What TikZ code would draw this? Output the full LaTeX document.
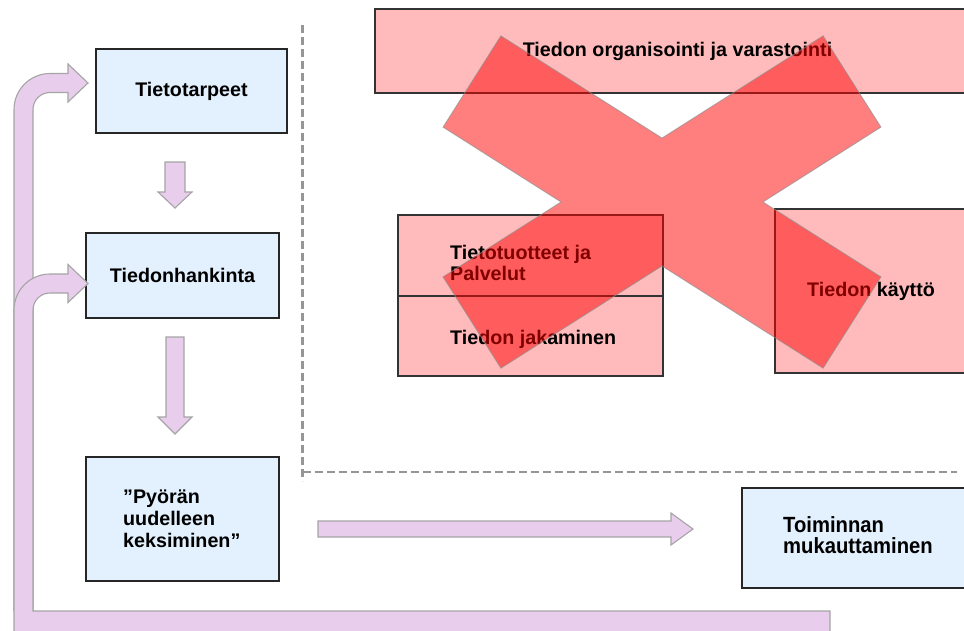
\documentclass[tikz,border=0pt]{standalone}
\usepackage{fontspec}
\setmainfont{Liberation Sans}
\newfontfamily\narrowsans{Liberation Sans}[FakeStretch=0.92]
\definecolor{boxblue}{RGB}{227,240,253}
\definecolor{boxpink}{RGB}{255,187,187}
\definecolor{arrowfill}{RGB}{233,205,236}
\definecolor{arrowline}{RGB}{165,165,165}
\definecolor{dashgrey}{RGB}{150,150,150}
\definecolor{crossred}{RGB}{255,0,0}
\begin{document}
\begin{tikzpicture}[x=1pt,y=-1pt,
  bluebox/.style={draw=black!85, fill=boxblue, line width=1.3pt, inner sep=0pt,
    font=\bfseries\fontsize{19.7}{21}\selectfont},
  pinkbox/.style={draw=black!80, fill=boxpink, line width=1.2pt, inner sep=0pt,
    font=\bfseries\fontsize{19.7}{21}\selectfont},
  lbl/.style={anchor=base west, inner sep=0pt, font=\bfseries\fontsize{19.7}{21}\selectfont},
  narrowlbl/.style={anchor=base west, inner sep=0pt, font=\narrowsans\bfseries\fontsize{22}{23}\selectfont},
  blockarrow/.style={fill=arrowfill, draw=arrowline, line width=1.1pt, line join=miter},
  boundary/.style={draw=dashgrey, line width=2.8pt, dash pattern=on 8pt off 4pt},
  cross/.style={fill=crossred, fill opacity=0.5, draw=black!45, draw opacity=0.6, line width=1pt}]
\useasboundingbox (0,0) rectangle (964,630);
\clip (0,0) rectangle (964,630);

% dashed boundary of the information-management area
\draw[boundary] (302.7,25) -- (302.7,481);
\draw[boundary] (302.7,472) -- (957,472);

% process boxes
\node[bluebox, minimum width=191, minimum height=84] (tarpeet) at (191.5,91) {Tietotarpeet};
\node[bluebox, minimum width=193, minimum height=85] (hankinta) at (182.5,275.5) {Tiedonhankinta};
\node[bluebox, minimum width=193, minimum height=124] (pyora) at (182.5,519) {};
\node[bluebox, minimum width=238, minimum height=100] (toiminta) at (861,538) {};

% feedback arrow along the bottom, up the left side into Tietotarpeet
\filldraw[blockarrow] (830,650) -- (830,611) -- (33,611) -- (33,109.5)
  .. controls (33,100.1) and (40.6,92.5) .. (50,92.5) -- (68,92.5) -- (68,102)
  -- (88,83) -- (68,64) -- (68,73.5) -- (50,73.5)
  .. controls (30.1,73.5) and (14,89.6) .. (14,109.5) -- (14,650) -- cycle;

% second branch into Tiedonhankinta
\fill[arrowfill] (14,611) -- (14,310) .. controls (14,290.1) and (30.1,274) .. (50,274)
  -- (68,274) -- (68,264.5) -- (88,283.5) -- (68,302.5) -- (68,293) -- (50,293)
  .. controls (40.6,293) and (33,300.6) .. (33,310) -- (33,611) -- cycle;
\draw[draw=arrowline, line width=1.1pt] (14,611) -- (14,310)
  .. controls (14,290.1) and (30.1,274) .. (50,274)
  -- (68,274) -- (68,264.5) -- (88,283.5) -- (68,302.5) -- (68,293) -- (50,293)
  .. controls (40.6,293) and (33,300.6) .. (33,310) -- (33,611);

% downward arrows between the process steps
\filldraw[blockarrow] (165,162) -- (185,162) -- (185,192) -- (192,192) -- (175,208)
  -- (158,192) -- (165,192) -- cycle;
\filldraw[blockarrow] (166,337) -- (184,337) -- (184,417) -- (192,417) -- (175,434)
  -- (158,417) -- (166,417) -- cycle;

% arrow towards Toiminnan mukauttaminen
\filldraw[blockarrow] (318,521) -- (671,521) -- (671,513) -- (693,529) -- (671,545)
  -- (671,537) -- (318,537) -- cycle;

% information-management boxes
\node[pinkbox, minimum width=605, minimum height=84] (organisointi) at (677.5,51)
  {Tiedon organisointi ja varastointi};
\node[pinkbox, minimum width=265, minimum height=81] (tuotteet) at (530.5,255.5) {};
\node[pinkbox, minimum width=265, minimum height=80] (jakaminen) at (530.5,336) {};
\node[pinkbox, minimum width=215, minimum height=164] (kaytto) at (882.5,291) {};

% labels
\node[lbl] (tuotteetA) at (450,259) {Tietotuotteet ja};
\node[lbl] (tuotteetB) at (450,280) {Palvelut};
\node[lbl] (jakaminenL) at (450,344) {Tiedon jakaminen};
\node[lbl] (kayttoL) at (807,296) {Tiedon käyttö};
\node[lbl] (pyoraA) at (123,503) {"Pyörän};
\node[lbl] (pyoraB) at (123,525) {uudelleen};
\node[lbl] (pyoraC) at (123,547) {keksiminen”};
\node[narrowlbl] (toimintaA) at (783,532) {Toiminnan};
\node[narrowlbl] (toimintaB) at (783,553) {mukauttaminen};

% the cross over the information-management area
\filldraw[cross] (500.9,35.9) -- (662,138.1) -- (823.1,35.9) -- (880.9,127.1)
  -- (762.9,202) -- (880.9,276.9) -- (823.1,368.1) -- (662,265.9)
  -- (500.9,368.1) -- (443.1,276.9) -- (561.1,202) -- (443.1,127.1) -- cycle;
\end{tikzpicture}
\end{document}
